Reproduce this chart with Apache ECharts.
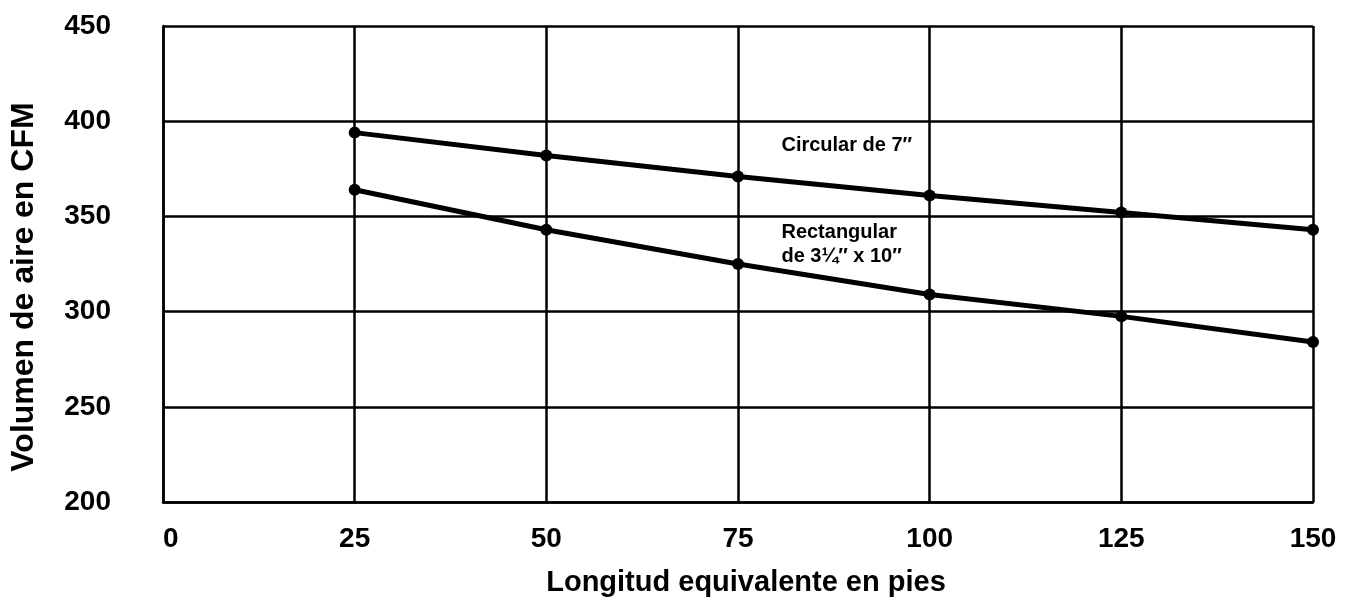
<!DOCTYPE html>
<html>
<head>
<meta charset="utf-8">
<script src="https://cdn.jsdelivr.net/npm/echarts@6/dist/echarts.min.js"></script>
<style>
  html, body { margin: 0; padding: 0; background: #fff; }
  #chart { width: 1354px; height: 602px; }
</style>
</head>
<body>
<div id="chart"></div>
<script>
// Duct length (equivalent feet) and air volume (CFM) for each duct type
const lengths = [25, 50, 75, 100, 125, 150];
const circular = [394, 382, 371, 361, 352, 343];
const rectangular = [364, 343, 325, 309, 297.5, 284];
const circularName = 'Circular de 7\u2033';
const rectangularName = 'Rectangular\nde 3\u00BC\u2033 x 10\u2033';
const xTitle = 'Longitud equivalente en pies';
const yTitle = 'Volumen de aire en CFM';

const FONT = '"Liberation Sans", Arial, sans-serif';
const chart = echarts.init(document.getElementById('chart'), null, { renderer: 'canvas' });

function pairs(ys) { return lengths.map((x, i) => [x, ys[i]]); }

const lineStyle = { color: '#000', width: 5 };
// Text note anchored at a data coordinate, left-aligned from that point
const note = (text, coord) => ({
  coord: coord,
  symbol: 'circle',
  symbolSize: 1,
  itemStyle: { color: 'rgba(0,0,0,0)' },
  label: {
    show: true, formatter: text, position: 'right', distance: 0,
    align: 'left', verticalAlign: 'middle',
    color: '#000', fontFamily: FONT, fontWeight: 'bold', fontSize: 20, lineHeight: 24
  }
});

chart.setOption({
  animation: false,
  backgroundColor: '#fff',
  grid: { left: 163, right: 41, top: 26, bottom: 99 },
  xAxis: {
    type: 'value', min: 0, max: 150, interval: 25,
    name: xTitle, nameLocation: 'middle', nameGap: 66,
    nameTextStyle: { color: '#000', fontFamily: FONT, fontWeight: 'bold', fontSize: 29, padding: [0, 0, 0, 16] },
    axisLine: { show: true, lineStyle: { color: '#000', width: 2.5 } },
    axisTick: { show: false },
    axisLabel: { color: '#000', fontFamily: FONT, fontWeight: 'bold', fontSize: 28, margin: 23, alignMinLabel: 'left' },
    splitLine: { show: true, lineStyle: { color: '#000', width: 2.5 } }
  },
  yAxis: {
    type: 'value', min: 200, max: 450, interval: 50,
    name: yTitle, nameLocation: 'middle', nameGap: 123,
    nameTextStyle: { color: '#000', fontFamily: FONT, fontWeight: 'bold', fontSize: 32, padding: [0, 46, 0, 0] },
    axisLine: { show: true, lineStyle: { color: '#000', width: 2.5 } },
    axisTick: { show: false },
    axisLabel: { color: '#000', fontFamily: FONT, fontWeight: 'bold', fontSize: 28, margin: 52 },
    splitLine: { show: true, lineStyle: { color: '#000', width: 2.5 } }
  },
  series: [
    {
      name: circularName, type: 'line', data: pairs(circular),
      symbol: 'circle', symbolSize: 12, lineStyle: lineStyle,
      itemStyle: { color: '#000' },
      markPoint: { silent: true, data: [note(circularName, [80.6, 387.5])] }
    },
    {
      name: rectangularName, type: 'line', data: pairs(rectangular),
      symbol: 'circle', symbolSize: 12, lineStyle: lineStyle,
      itemStyle: { color: '#000' },
      markPoint: { silent: true, data: [note(rectangularName, [80.6, 335])] }
    }
  ]
});
</script>
</body>
</html>
